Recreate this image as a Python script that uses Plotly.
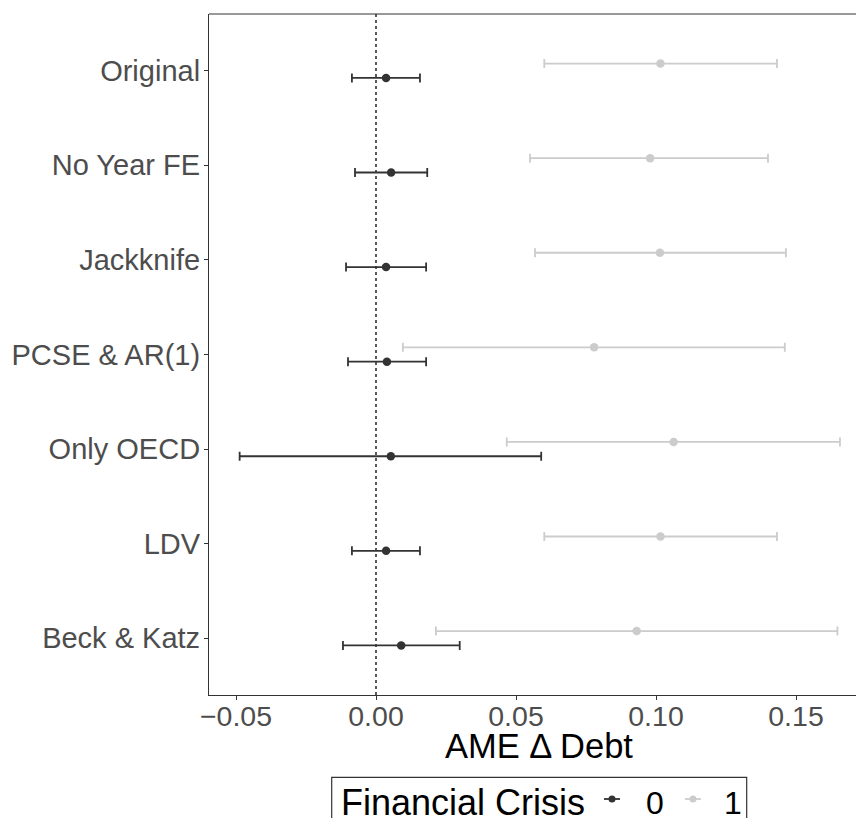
import plotly.graph_objects as go

# ---- data ----
models = ["Beck & Katz", "LDV", "Only OECD", "PCSE & AR(1)", "Jackknife", "No Year FE", "Original"]
model_pos = [1, 2, 3, 4, 5, 6, 7]

# Financial Crisis = 0
est0 = [0.0090, 0.0036, 0.0053, 0.0039, 0.0036, 0.0054, 0.0036]
lo0 = [-0.0118, -0.0086, -0.0487, -0.0100, -0.0107, -0.0075, -0.0086]
hi0 = [0.0299, 0.0157, 0.0590, 0.0179, 0.0179, 0.0183, 0.0157]

# Financial Crisis = 1
est1 = [0.0931, 0.1016, 0.1063, 0.0779, 0.1014, 0.0979, 0.1016]
lo1 = [0.0214, 0.0601, 0.0467, 0.0096, 0.0568, 0.0550, 0.0601]
hi1 = [0.1648, 0.1432, 0.1657, 0.1460, 0.1464, 0.1400, 0.1432]

x_ticks = [-0.05, 0.00, 0.05, 0.10, 0.15]
x_tick_labels = ["\u22120.05", "0.00", "0.05", "0.10", "0.15"]

# ---- layout geometry ----
W, H = 856, 818
ML, MR, MT, MB = 209, 0, 14, 123
PW, PH = W - ML - MR, H - MT - MB
DODGE = 0.076
C0, C1 = "#333333", "#CCCCCC"
FONT = "Liberation Sans, Arial, sans-serif"


def xp(px):
    return (px - ML) / PW


def yp(py):
    return (MT + PH - py) / PH


fig = go.Figure()

for est, lo, hi, col, off, name in [
    (est0, lo0, hi0, C0, -DODGE, "0"),
    (est1, lo1, hi1, C1, DODGE, "1"),
]:
    fig.add_trace(go.Scatter(
        x=est,
        y=[p + off for p in model_pos],
        mode="markers",
        name=name,
        marker=dict(color=col, size=8.5, line=dict(width=0)),
        error_x=dict(
            type="data", symmetric=False,
            array=[h - e for h, e in zip(hi, est)],
            arrayminus=[e - l for e, l in zip(est, lo)],
            color=col, thickness=1.8, width=4.5,
        ),
        showlegend=False,
        cliponaxis=False,
    ))

# zero reference line
fig.add_shape(type="line", xref="x", yref="paper", x0=0, x1=0, y0=0, y1=1,
              line=dict(color="black", width=1.3, dash="dot"), layer="below")
# top border of panel
fig.add_shape(type="line", xref="paper", yref="paper", x0=0, x1=1, y0=1, y1=1,
              line=dict(color="#333333", width=1.2))

# x axis title (centered on full, cropped panel)
fig.add_annotation(text="AME \u0394 Debt", xref="paper", yref="paper",
                   x=xp(539), y=yp(746), xanchor="center", yanchor="middle",
                   showarrow=False, font=dict(size=34.5, color="black", family=FONT))

# ---- manual legend ----
fig.add_shape(type="rect", xref="paper", yref="paper",
              x0=xp(331.7), x1=xp(746.7), y0=yp(777.3), y1=yp(840),
              line=dict(color="#333333", width=1.2), fillcolor="white")
fig.add_annotation(text="Financial Crisis", xref="paper", yref="paper",
                   x=xp(338.5), y=yp(802), xanchor="left", yanchor="middle",
                   showarrow=False, font=dict(size=36, color="black", family=FONT))
for cx, col, lab, lx in [(612, C0, "0", 655), (693, C1, "1", 733)]:
    fig.add_shape(type="line", xref="paper", yref="paper",
                  x0=xp(cx - 8), x1=xp(cx + 8), y0=yp(799), y1=yp(799),
                  line=dict(color=col, width=1.8))
    fig.add_shape(type="circle", xref="paper", yref="paper",
                  x0=xp(cx - 3.5), x1=xp(cx + 3.5), y0=yp(802.5), y1=yp(795.5),
                  line=dict(color=col, width=0), fillcolor=col)
    fig.add_annotation(text=lab, xref="paper", yref="paper",
                       x=xp(lx), y=yp(803), xanchor="center", yanchor="middle",
                       showarrow=False, font=dict(size=32, color="black", family=FONT))

fig.update_layout(
    width=W, height=H,
    margin=dict(l=ML, r=MR, t=MT, b=MB, autoexpand=False),
    plot_bgcolor="white", paper_bgcolor="white",
    font=dict(family=FONT),
    showlegend=False,
    xaxis=dict(
        range=[(0 - (376 - ML)) / 2800, (W - MR - 376) / 2800],
        tickvals=x_ticks, ticktext=x_tick_labels,
        showgrid=False, zeroline=False,
        showline=True, linecolor="#333333", linewidth=1.2,
        ticks="outside", ticklen=4, tickcolor="#333333", tickwidth=1,
        ticklabelstandoff=-8,
        tickfont=dict(size=28.5, color="#4D4D4D", family=FONT),
    ),
    yaxis=dict(
        range=[0.4, 7.6],
        tickvals=model_pos, ticktext=models,
        showgrid=False, zeroline=False,
        showline=True, linecolor="#333333", linewidth=1.2,
        ticks="outside", ticklen=4, tickcolor="#333333", tickwidth=1,
        ticklabelstandoff=-2,
        tickfont=dict(size=29, color="#4D4D4D", family=FONT),
    ),
)

fig.write_html("out.html")
